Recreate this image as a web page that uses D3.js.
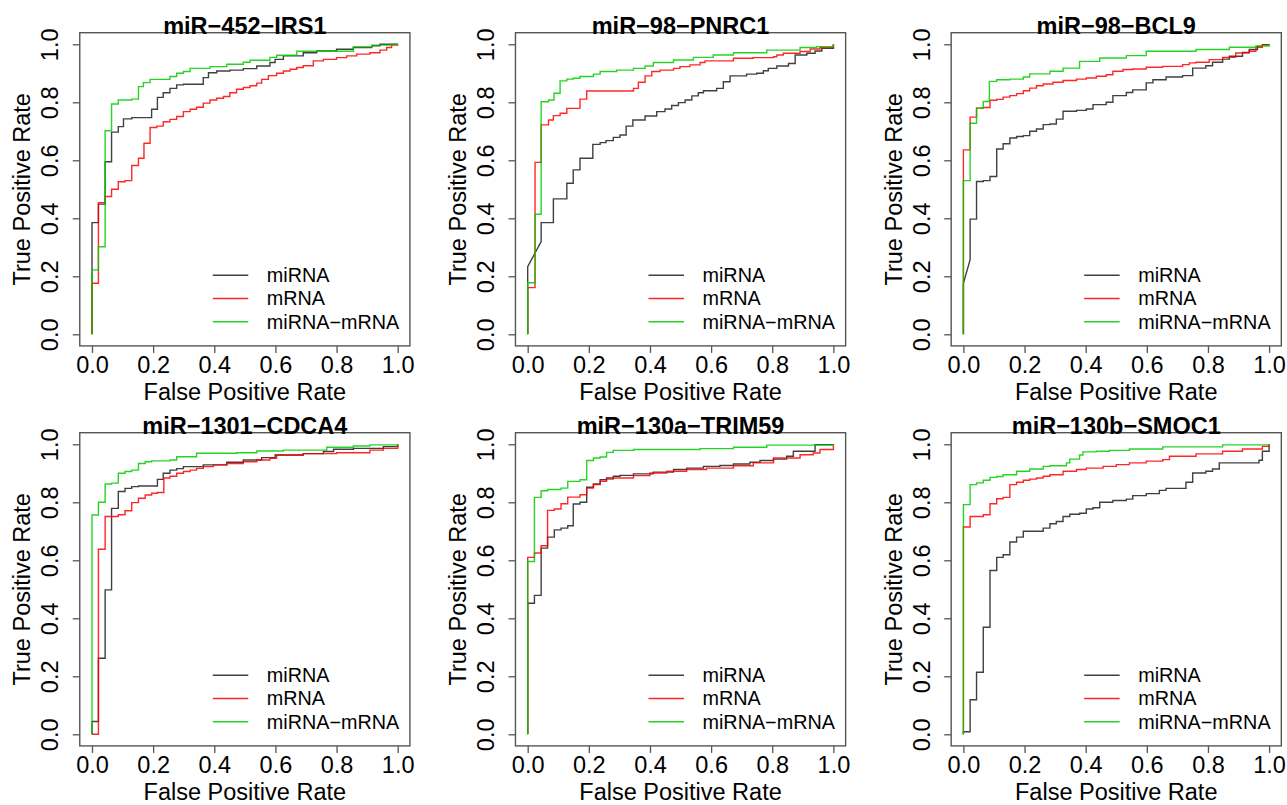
<!DOCTYPE html>
<html><head><meta charset="utf-8">
<script src="https://cdn.jsdelivr.net/npm/d3@7"></script>
<style>body{margin:0;background:#fff}svg{display:block}</style>
</head><body>
<svg id="chart" width="1287" height="805"></svg>
<script>
// ---------- data ----------
const titles = ["miR−452−IRS1", "miR−98−PNRC1", "miR−98−BCL9", "miR−1301−CDCA4", "miR−130a−TRIM59", "miR−130b−SMOC1"];
const seriesNames = ["miRNA", "mRNA", "miRNA−mRNA"];
const seriesColors = ["#000000", "#FF0000", "#00CD00"];
const tickValues = [0, 0.2, 0.4, 0.6, 0.8, 1.0];
const tickLabels = ["0.0", "0.2", "0.4", "0.6", "0.8", "1.0"];
const xLabel = "False Positive Rate";
const yLabel = "True Positive Rate";

// ROC vertices [fpr, tpr]; step (horizontal then vertical) unless 3rd element = 1 (straight segment)
const p1_miRNA = [[0,0],[0,0.385],[0.021,0.449],[0.043,0.595],[0.064,0.697],[0.086,0.716],[0.103,0.743],[0.130,0.747],[0.195,0.776],[0.214,0.817],[0.233,0.833],[0.255,0.848],[0.277,0.860],[0.299,0.862],[0.364,0.885],[0.381,0.902],[0.408,0.908],[0.451,0.911],[0.495,0.916],[0.539,0.925],[0.582,0.937],[0.599,0.948],[0.626,0.960],[0.691,0.971],[0.735,0.977],[0.800,0.983],[0.855,0.989],[0.915,0.995],[0.942,1],[1,1]];
const p1_mRNA = [[0,0],[0,0.176],[0.021,0.454],[0.043,0.475],[0.064,0.5],[0.086,0.526],[0.108,0.53],[0.130,0.582],[0.152,0.607],[0.170,0.659],[0.190,0.713],[0.212,0.718],[0.233,0.733],[0.255,0.741],[0.277,0.751],[0.299,0.768],[0.321,0.776],[0.342,0.783],[0.364,0.797],[0.386,0.808],[0.408,0.814],[0.430,0.82],[0.451,0.833],[0.473,0.845],[0.495,0.851],[0.517,0.857],[0.539,0.866],[0.555,0.879],[0.577,0.892],[0.604,0.9],[0.626,0.908],[0.648,0.914],[0.670,0.92],[0.691,0.926],[0.724,0.943],[0.757,0.948],[0.800,0.954],[0.833,0.96],[0.866,0.966],[0.909,0.971],[0.942,0.98],[0.964,0.989],[0.980,0.997],[1,1]];
const p1_both = [[0,0],[0,0.222],[0.021,0.302],[0.043,0.702],[0.064,0.794],[0.086,0.808],[0.130,0.811],[0.152,0.854],[0.168,0.868],[0.190,0.879],[0.255,0.889],[0.277,0.9],[0.299,0.906],[0.321,0.917],[0.386,0.923],[0.441,0.931],[0.495,0.938],[0.517,0.945],[0.582,0.955],[0.604,0.962],[0.670,0.976],[0.855,0.991],[0.915,0.997],[0.98,1],[1,1]];

const p2_miRNA = [[0,0],[0,0.233],[0.044,0.32,1],[0.044,0.385],[0.084,0.467],[0.128,0.521],[0.149,0.567],[0.171,0.607],[0.213,0.655],[0.237,0.661],[0.256,0.668],[0.280,0.679],[0.302,0.687],[0.322,0.718],[0.344,0.739],[0.384,0.753],[0.422,0.768],[0.449,0.777],[0.471,0.789],[0.493,0.799],[0.515,0.808],[0.537,0.822],[0.558,0.833],[0.575,0.84],[0.618,0.848],[0.640,0.871],[0.662,0.891],[0.716,0.897],[0.749,0.9],[0.771,0.909],[0.787,0.917],[0.815,0.925],[0.853,0.934],[0.875,0.963],[0.913,0.969],[0.940,0.977],[0.962,0.986],[1,0.998],[1,1]];
const p2_mRNA = [[0,0],[0,0.161],[0.024,0.593],[0.044,0.722],[0.068,0.739],[0.084,0.754],[0.106,0.762],[0.128,0.779],[0.171,0.811],[0.193,0.839],[0.346,0.848],[0.362,0.869],[0.384,0.891],[0.406,0.906],[0.433,0.911],[0.477,0.917],[0.498,0.923],[0.531,0.929],[0.564,0.937],[0.580,0.943],[0.673,0.952],[0.738,0.954],[0.804,0.957],[0.815,0.963],[0.836,0.969],[0.891,0.975],[0.924,0.984],[0.956,0.989],[1,0.998],[1,1]];
const p2_both = [[0,0],[0,0.178],[0.024,0.414],[0.044,0.802],[0.068,0.808],[0.086,0.831],[0.106,0.874],[0.128,0.88],[0.149,0.883],[0.171,0.889],[0.215,0.897],[0.237,0.906],[0.291,0.911],[0.346,0.917],[0.384,0.925],[0.411,0.937],[0.477,0.946],[0.542,0.955],[0.607,0.963],[0.673,0.971],[0.782,0.98],[0.891,0.989],[0.945,0.992],[1,0.998],[1,1]];

const p3_miRNA = [[0,0],[0,0.176],[0.022,0.257,1],[0.022,0.397],[0.043,0.527],[0.065,0.53],[0.087,0.544],[0.109,0.639],[0.130,0.657],[0.152,0.677],[0.174,0.682],[0.196,0.685],[0.217,0.7],[0.239,0.708],[0.261,0.723],[0.283,0.725],[0.304,0.742],[0.326,0.769],[0.370,0.772],[0.402,0.777],[0.424,0.792],[0.467,0.8],[0.489,0.823],[0.533,0.834],[0.554,0.843],[0.598,0.867],[0.620,0.878],[0.663,0.887],[0.717,0.892],[0.75,0.918],[0.793,0.926],[0.815,0.938],[0.848,0.949],[0.870,0.959],[0.913,0.972],[0.935,0.982],[0.962,0.993],[0.978,0.999],[1,1]];
const p3_mRNA = [[0,0],[0,0.636],[0.022,0.749],[0.043,0.78],[0.065,0.782],[0.087,0.807],[0.109,0.81],[0.130,0.818],[0.152,0.823],[0.174,0.83],[0.196,0.84],[0.217,0.849],[0.239,0.857],[0.261,0.863],[0.293,0.869],[0.326,0.875],[0.370,0.88],[0.402,0.884],[0.435,0.89],[0.467,0.895],[0.489,0.907],[0.522,0.913],[0.554,0.915],[0.598,0.921],[0.652,0.924],[0.717,0.93],[0.739,0.936],[0.761,0.938],[0.804,0.947],[0.848,0.955],[0.891,0.97],[0.935,0.976],[0.957,0.99],[0.978,0.998],[1,1]];
const p3_both = [[0,0],[0,0.53],[0.022,0.728],[0.043,0.78],[0.065,0.803],[0.085,0.872],[0.109,0.878],[0.152,0.88],[0.196,0.887],[0.217,0.898],[0.283,0.907],[0.326,0.918],[0.380,0.941],[0.446,0.953],[0.533,0.961],[0.598,0.976],[0.761,0.982],[0.870,0.99],[0.957,0.994],[1,0.997],[1,1]];

const p4_miRNA = [[0,0],[0,0.044],[0.021,0.262],[0.043,0.498],[0.064,0.779],[0.086,0.837],[0.108,0.848],[0.130,0.854],[0.152,0.856],[0.214,0.879],[0.233,0.9],[0.255,0.911],[0.277,0.916],[0.299,0.923],[0.364,0.929],[0.441,0.938],[0.495,0.946],[0.555,0.954],[0.599,0.963],[0.691,0.968],[0.757,0.975],[0.790,0.983],[0.855,0.986],[0.953,0.992],[1,0.998],[1,1]];
const p4_mRNA = [[0,0],[0.021,0.638],[0.043,0.751],[0.086,0.757],[0.108,0.771],[0.130,0.799],[0.152,0.814],[0.174,0.825],[0.195,0.831],[0.214,0.834],[0.235,0.884],[0.255,0.89],[0.277,0.9],[0.299,0.906],[0.321,0.911],[0.342,0.917],[0.364,0.923],[0.397,0.929],[0.441,0.934],[0.495,0.94],[0.539,0.946],[0.582,0.952],[0.604,0.963],[0.691,0.968],[0.800,0.971],[0.909,0.98],[0.953,0.986],[1,0.998],[1,1]];
const p4_both = [[0,0],[0,0.756],[0.021,0.8],[0.043,0.863],[0.064,0.866],[0.086,0.9],[0.108,0.906],[0.130,0.911],[0.152,0.934],[0.174,0.94],[0.195,0.943],[0.255,0.946],[0.277,0.957],[0.342,0.969],[0.473,0.971],[0.539,0.977],[0.626,0.98],[0.768,0.99],[0.855,0.994],[0.909,0.998],[1,1]];

const p5_miRNA = [[0,0],[0,0.452],[0.022,0.479],[0.044,0.642],[0.065,0.68],[0.087,0.705],[0.109,0.711],[0.131,0.719],[0.149,0.794],[0.171,0.8],[0.193,0.852],[0.215,0.863],[0.237,0.878],[0.258,0.884],[0.280,0.89],[0.302,0.893],[0.346,0.898],[0.411,0.904],[0.477,0.913],[0.520,0.918],[0.575,0.924],[0.629,0.927],[0.673,0.932],[0.727,0.938],[0.760,0.944],[0.804,0.949],[0.847,0.959],[0.869,0.976],[0.940,0.999],[1,1]];
const p5_mRNA = [[0,0],[0,0.61],[0.022,0.625],[0.044,0.65],[0.065,0.772],[0.087,0.777],[0.109,0.795],[0.131,0.818],[0.171,0.826],[0.193,0.849],[0.215,0.861],[0.237,0.872],[0.258,0.88],[0.280,0.884],[0.346,0.892],[0.400,0.901],[0.455,0.907],[0.520,0.913],[0.585,0.918],[0.673,0.926],[0.738,0.936],[0.804,0.953],[0.891,0.964],[0.934,0.97],[0.956,0.982],[1,0.998],[1,1]];
const p5_both = [[0,0],[0,0.596],[0.022,0.817],[0.044,0.84],[0.065,0.844],[0.109,0.849],[0.131,0.872],[0.171,0.878],[0.193,0.944],[0.215,0.953],[0.237,0.956],[0.258,0.972],[0.280,0.979],[0.346,0.982],[0.564,0.985],[0.673,0.99],[0.782,0.997],[1,1]];

const p6_miRNA = [[0,0],[0,0.009],[0.022,0.119],[0.043,0.214],[0.065,0.369],[0.087,0.565],[0.109,0.61],[0.130,0.619],[0.152,0.663],[0.174,0.68],[0.196,0.7],[0.261,0.711],[0.283,0.726],[0.304,0.734],[0.326,0.751],[0.348,0.759],[0.380,0.762],[0.402,0.777],[0.424,0.781],[0.446,0.8],[0.489,0.806],[0.533,0.811],[0.554,0.823],[0.598,0.83],[0.641,0.841],[0.663,0.848],[0.728,0.869],[0.75,0.901],[0.793,0.907],[0.815,0.915],[0.837,0.936],[0.967,0.945],[0.978,0.976],[1,0.999],[1,1]];
const p6_mRNA = [[0,0],[0,0.715],[0.022,0.751],[0.065,0.757],[0.087,0.795],[0.109,0.812],[0.130,0.817],[0.152,0.861],[0.174,0.869],[0.196,0.876],[0.217,0.88],[0.239,0.884],[0.261,0.89],[0.283,0.895],[0.326,0.907],[0.370,0.913],[0.402,0.918],[0.457,0.924],[0.500,0.93],[0.543,0.936],[0.598,0.942],[0.652,0.947],[0.674,0.959],[0.761,0.967],[0.848,0.976],[0.913,0.984],[0.978,0.993],[1,1]];
const p6_both = [[0,0],[0,0.792],[0.022,0.861],[0.043,0.867],[0.065,0.876],[0.087,0.886],[0.109,0.889],[0.130,0.895],[0.174,0.907],[0.217,0.915],[0.261,0.924],[0.283,0.926],[0.337,0.936],[0.348,0.949],[0.380,0.963],[0.391,0.974],[0.435,0.976],[0.478,0.979],[0.543,0.984],[0.652,0.991],[0.848,0.998],[1,1]];

const panelCurves = [
  [p1_miRNA, p1_mRNA, p1_both],
  [p2_miRNA, p2_mRNA, p2_both],
  [p3_miRNA, p3_mRNA, p3_both],
  [p4_miRNA, p4_mRNA, p4_both],
  [p5_miRNA, p5_mRNA, p5_both],
  [p6_miRNA, p6_mRNA, p6_both]
];

// ---------- layout ----------
const svg = d3.select("#chart");
const FONT = "'Liberation Sans', Arial, Helvetica, sans-serif";
const colStep = 435.7, rowStep = 400;
const x0Left = 92, dataW = 305.7;
const y1Top = 44.3, dataH = 290;

function stepVertices(points) {
  const out = [[points[0][0], points[0][1]]];
  for (let i = 1; i < points.length; i++) {
    const p = points[i], q = points[i - 1];
    if (!p[2]) out.push([p[0], q[1]]);
    out.push([p[0], p[1]]);
  }
  return out;
}

titles.forEach((title, k) => {
  const col = k % 3, row = Math.floor(k / 3);
  const xs = x0Left + col * colStep;
  const yt = y1Top + row * rowStep;
  const x = d3.scaleLinear().domain([0, 1]).range([xs, xs + dataW]);
  const y = d3.scaleLinear().domain([0, 1]).range([yt + dataH, yt]);
  const bx0 = x(-0.04), bx1 = x(1.04), by0 = y(1.04), by1 = y(-0.04);

  const g = svg.append("g");

  // curves (drawn in order: miRNA, mRNA, miRNA-mRNA)
  const line = d3.line().x(d => x(d[0])).y(d => y(d[1])).curve(d3.curveLinear);
  panelCurves[k].forEach((pts, s) => {
    g.append("path")
      .attr("d", line(stepVertices(pts)))
      .attr("fill", "none")
      .attr("stroke", seriesColors[s])
      .attr("stroke-width", 1.4)
      .attr("stroke-opacity", s === 0 ? 0.75 : 0.85)
      .attr("stroke-linejoin", "miter");
  });

  // box
  g.append("rect")
    .attr("x", bx0).attr("y", by0)
    .attr("width", bx1 - bx0).attr("height", by1 - by0)
    .attr("fill", "none").attr("stroke", "#555").attr("stroke-width", 1.4);

  // x axis
  const xAxis = d3.axisBottom(x).tickValues(tickValues).tickSize(7)
    .tickFormat((d, i) => tickLabels[i]);
  const gx = g.append("g").attr("transform", `translate(0,${by1})`).call(xAxis);
  gx.select(".domain").remove();
  gx.selectAll(".tick line").attr("stroke", "#555").attr("stroke-width", 1.3);
  gx.selectAll(".tick text").attr("y", 0).attr("dy", 0)
    .attr("transform", "translate(0,27.5)")
    .attr("font-family", FONT).attr("font-size", 23.5).attr("fill", "#000");

  // y axis
  const yAxis = d3.axisLeft(y).tickValues(tickValues).tickSize(7)
    .tickFormat((d, i) => tickLabels[i]);
  const gy = g.append("g").attr("transform", `translate(${bx0},0)`).call(yAxis);
  gy.select(".domain").remove();
  gy.selectAll(".tick line").attr("stroke", "#555").attr("stroke-width", 1.3);
  gy.selectAll(".tick text")
    .attr("x", 0).attr("dy", 0)
    .attr("transform", "translate(-21.5,0) rotate(-90)")
    .attr("text-anchor", "middle")
    .attr("font-family", FONT).attr("font-size", 23.5).attr("fill", "#000");

  // axis labels
  g.append("text")
    .attr("x", (bx0 + bx1) / 2).attr("y", by1 + 54.5)
    .attr("text-anchor", "middle")
    .attr("font-family", FONT).attr("font-size", 23.5)
    .text(xLabel);
  g.append("text")
    .attr("transform", `translate(${bx0 - 49.5},${(by0 + by1) / 2}) rotate(-90)`)
    .attr("text-anchor", "middle")
    .attr("font-family", FONT).attr("font-size", 23.5)
    .text(yLabel);

  // title
  g.append("text")
    .attr("x", (bx0 + bx1) / 2).attr("y", by0 + 1)
    .attr("text-anchor", "middle")
    .attr("font-family", FONT).attr("font-size", 23.5).attr("font-weight", "bold")
    .text(title);

  // legend
  const lg = g.append("g");
  seriesNames.forEach((name, s) => {
    const ly = by0 + 242.5 + s * 23.3;
    lg.append("line")
      .attr("x1", bx0 + 133).attr("x2", bx0 + 168.5)
      .attr("y1", ly).attr("y2", ly)
      .attr("stroke", seriesColors[s]).attr("stroke-width", 1.4)
      .attr("stroke-opacity", s === 0 ? 0.75 : 0.85);
    lg.append("text")
      .attr("x", bx0 + 187).attr("y", ly).attr("dy", "0.35em")
      .attr("font-family", FONT).attr("font-size", 19.8)
      .text(name);
  });
});
</script>
</body></html>
